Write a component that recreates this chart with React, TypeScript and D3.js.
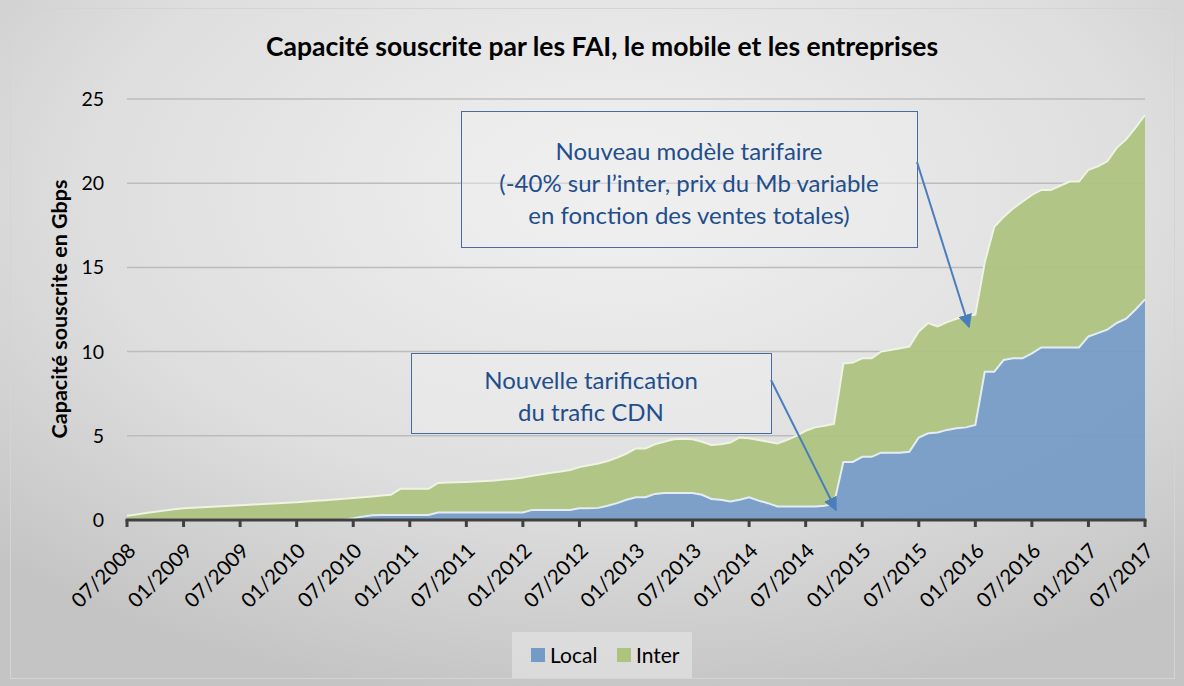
import React from "react";
import * as d3 from "d3";

const tickLabels = ["07/2008","01/2009","07/2009","01/2010","07/2010","01/2011","07/2011","01/2012","07/2012","01/2013","07/2013","01/2014","07/2014","01/2015","07/2015","01/2016","07/2016","01/2017","07/2017"];
const yTicks = [0, 5, 10, 15, 20, 25];

// monthly values, 07/2008 .. 07/2017 (Gbps)
const local = [
  0.02,0.02,0.02,0.02,0.02,0.02,0.02,0.02,0.02,0.02,
  0.02,0.02,0.02,0.02,0.02,0.02,0.02,0.02,0.02,0.02,
  0.02,0.02,0.02,0.02,0.10,0.20,0.28,0.30,0.30,0.30,
  0.30,0.30,0.30,0.45,0.45,0.45,0.45,0.45,0.45,0.45,
  0.45,0.45,0.45,0.60,0.60,0.60,0.60,0.60,0.70,0.70,
  0.72,0.85,1.00,1.20,1.35,1.35,1.55,1.60,1.60,1.60,
  1.60,1.50,1.25,1.20,1.10,1.20,1.35,1.15,1.00,0.80,
  0.80,0.80,0.80,0.80,0.85,0.95,3.45,3.45,3.75,3.75,
  4.00,4.00,4.00,4.05,4.90,5.15,5.20,5.35,5.45,5.50,
  5.65,8.80,8.80,9.50,9.60,9.60,9.90,10.25,10.25,10.25,
  10.25,10.25,10.90,11.10,11.30,11.70,11.95,12.50,13.10
];
const inter = [
  0.23,0.31,0.39,0.47,0.55,0.62,0.68,0.71,0.74,0.77,
  0.80,0.83,0.86,0.89,0.92,0.95,0.98,1.01,1.04,1.08,
  1.12,1.16,1.20,1.24,1.20,1.15,1.12,1.15,1.20,1.55,
  1.55,1.55,1.55,1.75,1.77,1.79,1.81,1.84,1.87,1.90,
  1.95,2.00,2.07,2.02,2.12,2.20,2.28,2.37,2.45,2.55,
  2.63,2.65,2.70,2.75,2.90,2.90,2.95,3.05,3.20,3.22,
  3.20,3.15,3.20,3.30,3.50,3.70,3.50,3.60,3.65,3.75,
  3.95,4.20,4.50,4.70,4.75,4.75,5.85,5.90,5.85,5.85,
  6.00,6.10,6.20,6.25,6.30,6.55,6.30,6.40,6.50,6.60,
  6.55,6.50,8.60,8.50,8.90,9.30,9.40,9.35,9.35,9.60,
  9.85,9.85,9.90,9.90,10.00,10.40,10.65,10.80,10.95
];

const W = 1184, H = 686;
const X0 = 127, X1 = 1145, Y0 = 520, Y1 = 99;
const FONT = "Lato, 'Open Sans', sans-serif";
const BLUE = "#749bc6", GREEN = "#adc47f";
const ANN = "#1f4e8c", ARROW = "#4a7ebb";

export default function App() {
  const x = d3.scaleLinear().domain([0, local.length - 1]).range([X0, X1]);
  const y = d3.scaleLinear().domain([0, 25]).range([Y0, Y1]);
  const rows = local.map((v, i) => ({ i, local: v, inter: inter[i] }));
  const series = d3.stack<any>().keys(["local", "inter"])(rows);
  const area = d3.area<any>().x((d) => x(d.data.i)).y0((d) => y(d[0])).y1((d) => y(d[1]));
  const topLine = d3.line<any>().x((d) => x(d.data.i)).y((d) => y(d[1]));

  return (
    <svg width={W} height={H} style={{ position: "absolute", left: 0, top: 0 }} fontFamily={FONT}>
      <defs>
        <radialGradient id="bg" cx="52%" cy="28%" r="75%">
          <stop offset="0%" stopColor="#f1f1f1" />
          <stop offset="60%" stopColor="#dedede" />
          <stop offset="100%" stopColor="#c4c4c4" />
        </radialGradient>
        <marker id="ah" viewBox="0 0 10 10" refX="9" refY="5" markerWidth="7" markerHeight="7" orient="auto">
          <path d="M0,0 L10,5 L0,10 z" fill={ARROW} />
        </marker>
      </defs>
      <rect x={0} y={0} width={W} height={H} fill="url(#bg)" />
      <rect x={10.5} y={8.5} width={1164} height={670} fill="none" stroke="#d4d4d4" strokeWidth={1} />

      <text x={602} y={56} textAnchor="middle" fontSize={26.5} fontWeight="bold" fill="#000">
        Capacité souscrite par les FAI, le mobile et les entreprises
      </text>

      {/* gridlines */}
      {yTicks.filter((t) => t > 0).map((t) => (
        <line key={t} x1={X0} x2={X1} y1={y(t)} y2={y(t)} stroke="#bcbcbc" strokeWidth={1.5} />
      ))}

      {/* areas */}
      {series.map((s, k) => (
        <path key={k} d={area(s) || ""} fill={k === 0 ? BLUE : GREEN} fillOpacity={0.93} />
      ))}
      <path d={topLine(series[1]) || ""} fill="none" stroke="#eef3e2" strokeWidth={2} />
      <path d={topLine(series[0]) || ""} fill="none" stroke="#e4ecf6" strokeWidth={2} />

      {/* y tick labels */}
      {yTicks.map((t) => (
        <text key={t} x={104} y={y(t) + 7} textAnchor="end" fontSize={19.5} fill="#000">{t}</text>
      ))}
      <text transform={`translate(67,309) rotate(-90)`} textAnchor="middle" fontSize={21.5} fontWeight="bold" fill="#000">
        Capacité souscrite en Gbps
      </text>

      {/* x axis */}
      <line x1={X0 - 1.5} x2={X1 + 1.5} y1={Y0} y2={Y0} stroke="#404040" strokeWidth={3} />
      {tickLabels.map((lab, k) => {
        const tx = x(k * 6);
        return (
          <g key={lab}>
            <line x1={tx} x2={tx} y1={Y0} y2={Y0 + 7} stroke="#404040" strokeWidth={3} />
            <text transform={`translate(${tx + 10},${Y0 + 32}) rotate(-45)`} textAnchor="end" fontSize={20.5} fill="#000">{lab}</text>
          </g>
        );
      })}

      {/* annotation 1 */}
      <rect x={461.5} y={111.5} width={456} height={136} fill="#eeeeee" fillOpacity={0.5} stroke="#4a6b9c" strokeWidth={1} />
      <text textAnchor="middle" fontSize={24} fill={ANN}>
        <tspan x={689} y={160}>Nouveau modèle tarifaire</tspan>
        <tspan x={689} y={192}>(-40% sur l’inter, prix du Mb variable</tspan>
        <tspan x={689} y={224}>en fonction des ventes totales)</tspan>
      </text>
      <line x1={917} y1={162} x2={969} y2={327} stroke={ARROW} strokeWidth={2} markerEnd="url(#ah)" />

      {/* annotation 2 */}
      <rect x={411.5} y={353.5} width={360} height={80} fill="#eeeeee" fillOpacity={0.5} stroke="#4a6b9c" strokeWidth={1} />
      <text textAnchor="middle" fontSize={24} fill={ANN}>
        <tspan x={591} y={389}>Nouvelle tarification</tspan>
        <tspan x={591} y={421}>du trafic CDN</tspan>
      </text>
      <line x1={771} y1={380} x2={836} y2={510} stroke={ARROW} strokeWidth={2} markerEnd="url(#ah)" />

      {/* legend */}
      <rect x={512} y={632} width={180} height={46} fill="#e2e2e2" fillOpacity={0.7} />
      <rect x={531} y={648} width={14} height={14} fill={BLUE} />
      <text x={550} y={663} fontSize={21} fill="#000">Local</text>
      <rect x={617} y={648} width={14} height={14} fill={GREEN} />
      <text x={636} y={663} fontSize={21} fill="#000">Inter</text>
    </svg>
  );
}
